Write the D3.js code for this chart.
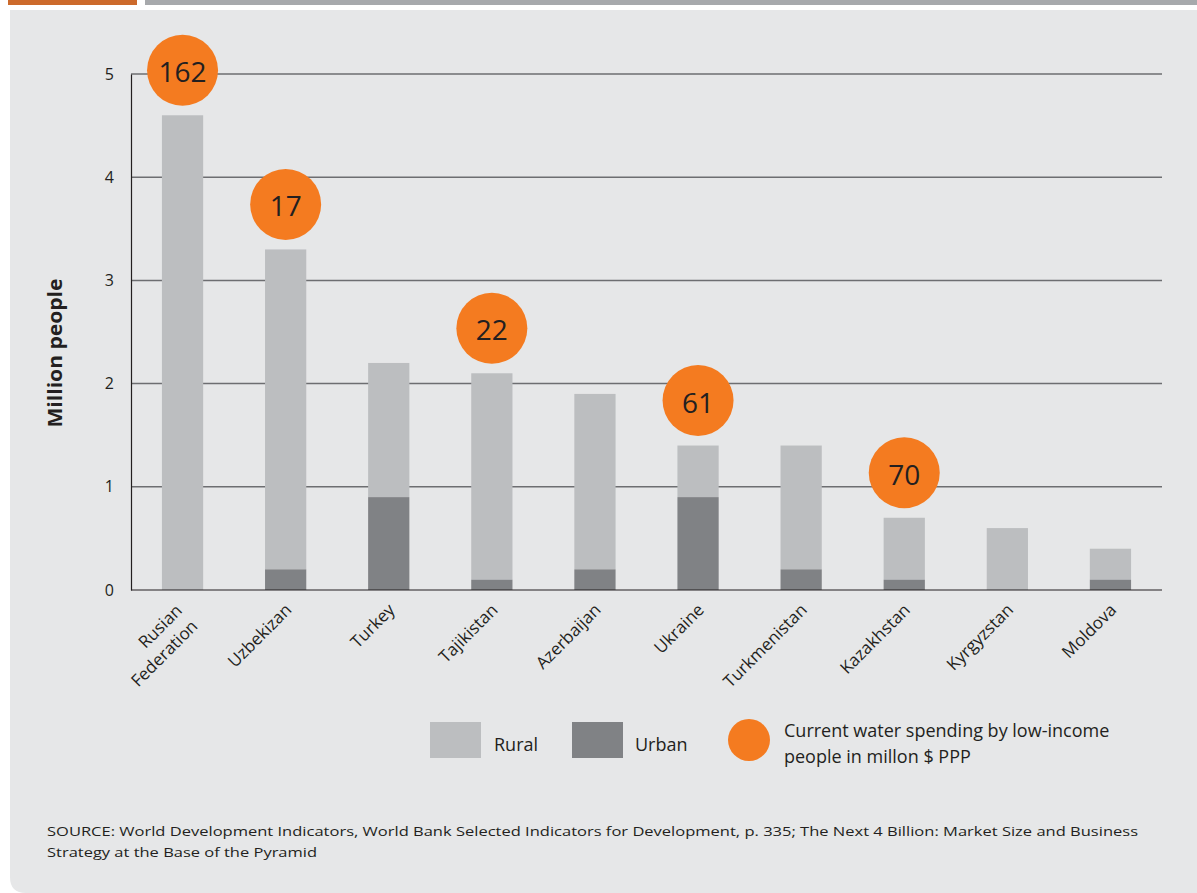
<!DOCTYPE html>
<html>
<head>
<meta charset="utf-8">
<script src="https://cdn.jsdelivr.net/npm/d3@7"></script>
<style>
  html, body { margin: 0; padding: 0; background: #ffffff; }
  svg { display: block; }
  text { font-family: "Open Sans", "Noto Sans", sans-serif; fill: #231f20; }
</style>
</head>
<body>
<svg id="chart" width="1197" height="893"></svg>
<script>
const countries = ["Rusian\nFederation", "Uzbekizan", "Turkey", "Tajikistan", "Azerbaijan", "Ukraine", "Turkmenistan", "Kazakhstan", "Kyrgyzstan", "Moldova"];
const urban = [0, 0.2, 0.9, 0.1, 0.2, 0.9, 0.2, 0.1, 0, 0.1];
const rural = [4.6, 3.1, 1.3, 2.0, 1.7, 0.5, 1.2, 0.6, 0.6, 0.3];
const spending = [162, 17, null, 22, null, 61, null, 70, null, null];
const yTicks = [0, 1, 2, 3, 4, 5];
const yLabel = "Million people";
const legendLabels = ["Rural", "Urban", "Current water spending by low-income", "people in millon $ PPP"];
const sourceLines = [
  "SOURCE: World Development Indicators, World Bank Selected Indicators for Development, p. 335; The Next 4 Billion: Market Size and Business",
  "Strategy at the Base of the Pyramid"
];

const colors = { rural: "#bcbec0", urban: "#808285", orange: "#f47b20", grid: "#6d6e71", axis: "#231f20", panel: "#e6e7e8" };

const svg = d3.select("#chart");

// header strips
svg.append("rect").attr("x", 8).attr("y", 0).attr("width", 129).attr("height", 5).attr("fill", "#cc6a2c");
svg.append("rect").attr("x", 145).attr("y", 0).attr("width", 1052).attr("height", 5).attr("fill", "#a7a9ac");

// panel with rounded bottom-left corner
svg.append("path")
  .attr("d", "M10,10 H1197 V893 H26 Q10,893 10,877 Z")
  .attr("fill", colors.panel);

const x = d3.scaleBand().domain(countries).range([131, 1162]).paddingInner(0.6).paddingOuter(0.3);
const y = d3.scaleLinear().domain([0, 5]).range([590, 74]);

// gridlines
svg.append("g").selectAll("line").data(yTicks.filter(d => d > 0)).join("line")
  .attr("x1", 131).attr("x2", 1162)
  .attr("y1", d => y(d)).attr("y2", d => y(d))
  .attr("stroke", colors.grid).attr("stroke-width", 1.5);

// y axis
const yAxis = d3.axisLeft(y).tickValues(yTicks).tickSize(0).tickPadding(17).tickFormat(d3.format("d"));
const gy = svg.append("g").attr("transform", "translate(131,0)").call(yAxis);
gy.select(".domain").attr("stroke", colors.axis).attr("stroke-width", 1.2);
gy.selectAll("text").style("font-family", "'Open Sans', sans-serif").attr("font-size", 16).attr("fill", colors.axis);

// bars
const data = countries.map((c, i) => ({ c, urban: urban[i], rural: rural[i], total: urban[i] + rural[i], s: spending[i] }));
const g = svg.append("g");
g.selectAll("rect.rural").data(data).join("rect").attr("class", "rural")
  .attr("x", d => x(d.c)).attr("width", x.bandwidth())
  .attr("y", d => y(d.total)).attr("height", d => y(d.urban) - y(d.total))
  .attr("fill", colors.rural);
g.selectAll("rect.urban").data(data.filter(d => d.urban > 0)).join("rect").attr("class", "urban")
  .attr("x", d => x(d.c)).attr("width", x.bandwidth())
  .attr("y", d => y(d.urban)).attr("height", d => y(0) - y(d.urban))
  .attr("fill", colors.urban);

// baseline
svg.append("line").attr("x1", 131).attr("x2", 1162).attr("y1", y(0)).attr("y2", y(0))
  .attr("stroke", colors.axis).attr("stroke-width", 1.2);

// x labels
const xl = svg.append("g").selectAll("text").data(data).join("text")
  .attr("transform", d => `translate(${x(d.c) + x.bandwidth() / 2 + 7},${y(0) + 21}) rotate(-45)`)
  .attr("text-anchor", "end").attr("font-size", 17);
xl.each(function (d) {
  const lines = d.c.split("\n");
  const t = d3.select(this);
  if (lines.length === 1) {
    t.append("tspan").attr("x", 0).attr("dy", 0).text(lines[0]);
  } else {
    lines.forEach((ln, i) => {
      t.append("tspan").attr("x", -5).attr("dy", i === 0 ? -4 : 22).text(ln);
    });
  }
});

// spending circles
const circ = svg.append("g").selectAll("g").data(data.filter(d => d.s != null)).join("g")
  .attr("transform", d => `translate(${x(d.c) + x.bandwidth() / 2},${y(d.total) - 45})`);
circ.append("circle").attr("r", 35.5).attr("fill", colors.orange);
circ.append("text").attr("text-anchor", "middle").attr("dy", 12).attr("font-size", 28).text(d => d.s);

// y label
svg.append("text").attr("transform", "translate(62,353) rotate(-90)")
  .attr("text-anchor", "middle").attr("font-size", 20).attr("font-weight", "bold")
  .attr("textLength", 149).attr("lengthAdjust", "spacingAndGlyphs").text(yLabel);

// legend
const lg = svg.append("g");
lg.append("rect").attr("x", 430).attr("y", 722).attr("width", 51).attr("height", 36).attr("fill", colors.rural);
lg.append("text").attr("x", 494).attr("y", 751).attr("font-size", 18).text(legendLabels[0]);
lg.append("rect").attr("x", 572).attr("y", 722).attr("width", 51).attr("height", 36).attr("fill", colors.urban);
lg.append("text").attr("x", 635).attr("y", 751).attr("font-size", 18).text(legendLabels[1]);
lg.append("circle").attr("cx", 749).attr("cy", 740).attr("r", 21).attr("fill", colors.orange);
lg.append("text").attr("x", 784).attr("y", 737).attr("font-size", 18).text(legendLabels[2]);
lg.append("text").attr("x", 784).attr("y", 763).attr("font-size", 18).text(legendLabels[3]);

// source
svg.append("text").attr("x", 47).attr("y", 836).attr("font-size", 13.5).attr("textLength", 1091).attr("lengthAdjust", "spacingAndGlyphs").text(sourceLines[0]);
svg.append("text").attr("x", 47).attr("y", 857).attr("font-size", 13.5).attr("textLength", 270).attr("lengthAdjust", "spacingAndGlyphs").text(sourceLines[1]);
</script>
</body>
</html>
